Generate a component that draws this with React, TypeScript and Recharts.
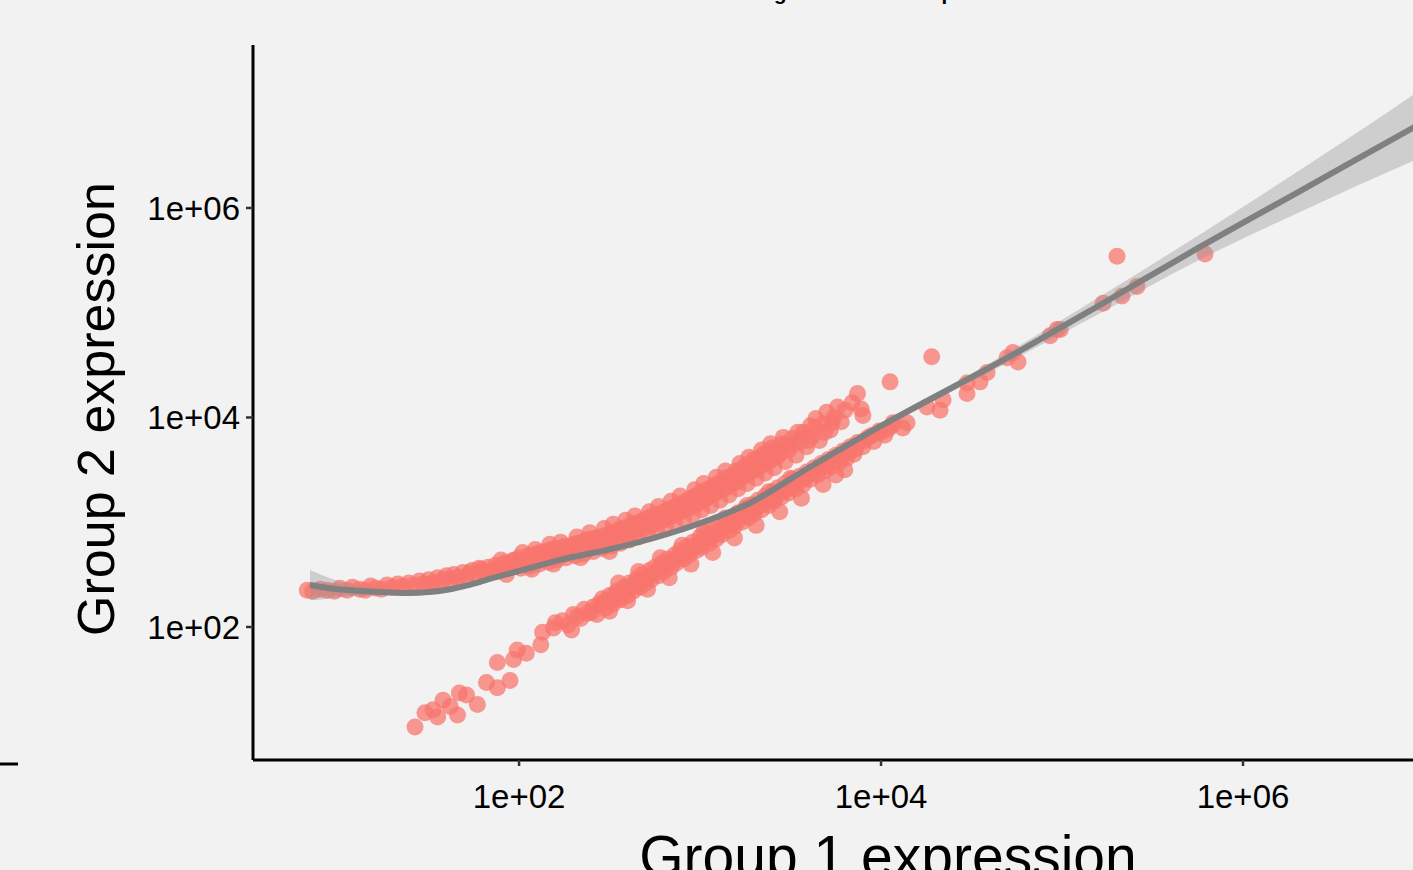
import React from "react";
import { ComposedChart, Scatter, Line, Area, XAxis, YAxis } from "recharts";

// All values are log10 of expression.
// [log10(Group 1 expression), log10(Group 2 expression)]
const upperBranch: [number, number][] = [
  [0.83, 2.35], [0.86, 2.34], [0.9, 2.36], [0.94, 2.35], [0.98, 2.34], [1.01, 2.37], [1.05, 2.35],
  [1.08, 2.38], [1.12, 2.36], [1.15, 2.35], [1.18, 2.39], [1.21, 2.37], [1.24, 2.36], [1.27, 2.4],
  [1.3, 2.38], [1.33, 2.41], [1.36, 2.39], [1.39, 2.42], [1.42, 2.4], [1.45, 2.44], [1.47, 2.41],
  [1.5, 2.45], [1.52, 2.42], [1.55, 2.47], [1.57, 2.44], [1.6, 2.49], [1.62, 2.45], [1.64, 2.5],
  [1.67, 2.47], [1.69, 2.52], [1.71, 2.48], [1.74, 2.54], [1.76, 2.5], [1.78, 2.56], [1.8, 2.52],
  [1.83, 2.57], [1.85, 2.53], [1.87, 2.59], [1.89, 2.55], [1.92, 2.61], [1.94, 2.56], [1.96, 2.63],
  [1.98, 2.58], [2.0, 2.66], [2.01, 2.56], [2.03, 2.62], [2.05, 2.68], [2.06, 2.58], [2.08, 2.64],
  [2.1, 2.7], [2.11, 2.6], [2.13, 2.66], [2.15, 2.72], [2.16, 2.62], [2.18, 2.68], [2.2, 2.75],
  [2.21, 2.64], [2.23, 2.7], [2.25, 2.77], [2.26, 2.66], [2.28, 2.72], [2.3, 2.79], [2.31, 2.68],
  [2.33, 2.75], [2.35, 2.81], [2.36, 2.7], [2.38, 2.77], [2.4, 2.84], [2.41, 2.72], [2.43, 2.79],
  [2.45, 2.86], [2.46, 2.75], [2.48, 2.82], [2.5, 2.89], [2.51, 2.77], [2.53, 2.85], [2.55, 2.93],
  [2.56, 2.8], [2.58, 2.88], [2.6, 2.96], [2.61, 2.83], [2.63, 2.91], [2.65, 2.99], [2.66, 2.86],
  [2.68, 2.94], [2.7, 3.03], [2.71, 2.89], [2.73, 2.97], [2.75, 3.06], [2.76, 2.92], [2.78, 3.01],
  [2.8, 3.1], [2.81, 2.96], [2.83, 3.05], [2.85, 3.14], [2.86, 3.0], [2.88, 3.09], [2.9, 3.18],
  [2.91, 3.03], [2.93, 3.13], [2.95, 3.23], [2.96, 3.07], [2.98, 3.17], [3.0, 3.28], [3.01, 3.12],
  [3.03, 3.22], [3.05, 3.32], [3.06, 3.16], [3.08, 3.27], [3.1, 3.37], [3.11, 3.21], [3.13, 3.32],
  [3.15, 3.43], [3.16, 3.26], [3.18, 3.37], [3.2, 3.49], [3.21, 3.32], [3.23, 3.43], [3.25, 3.54],
  [3.26, 3.37], [3.28, 3.48], [3.3, 3.6], [3.31, 3.42], [3.33, 3.53], [3.35, 3.65], [3.36, 3.47],
  [3.38, 3.58], [3.4, 3.71], [3.41, 3.52], [3.43, 3.63], [3.45, 3.75], [3.47, 3.58], [3.49, 3.69],
  [3.51, 3.8], [3.53, 3.64], [3.55, 3.76], [3.57, 3.86], [3.59, 3.72], [3.61, 3.92], [3.62, 3.82],
  [3.64, 3.99], [3.66, 3.78], [3.68, 3.94], [3.7, 4.05], [3.72, 3.88], [3.74, 4.0], [3.76, 4.1],
  [3.78, 3.96], [3.8, 4.07], [3.84, 4.14], [3.87, 4.23], [3.89, 4.08], [3.9, 4.02],
  [4.05, 4.34], [4.28, 4.58],
];

// Additional, less regular points inside the upper band
const upperFill: [number, number][] = [
  [1.51, 2.4], [1.585, 2.455], [1.655, 2.47], [1.725, 2.515], [1.795, 2.55], [1.815, 2.505], [1.865, 2.545],
  [1.905, 2.585], [1.935, 2.605], [1.975, 2.64], [2.015, 2.625], [2.045, 2.59], [2.075, 2.685], [2.095, 2.62],
  [2.125, 2.715], [2.145, 2.655], [2.175, 2.74], [2.195, 2.66], [2.225, 2.735], [2.245, 2.69], [2.275, 2.76],
  [2.295, 2.735], [2.325, 2.8], [2.345, 2.745], [2.375, 2.83], [2.395, 2.76], [2.425, 2.85], [2.445, 2.8],
  [2.475, 2.87], [2.495, 2.815], [2.525, 2.9], [2.545, 2.86], [2.575, 2.94], [2.595, 2.87], [2.625, 2.975],
  [2.645, 2.92], [2.675, 3.01], [2.695, 2.95], [2.725, 3.05], [2.745, 2.985], [2.775, 3.08], [2.795, 3.02],
  [2.825, 3.125], [2.845, 3.06], [2.875, 3.16], [2.895, 3.1], [2.925, 3.2], [2.945, 3.14], [2.975, 3.25],
  [2.995, 3.19], [3.025, 3.3], [3.045, 3.24], [3.075, 3.345], [3.095, 3.29], [3.125, 3.39], [3.145, 3.33],
  [3.175, 3.44], [3.195, 3.38], [3.225, 3.5], [3.245, 3.44], [3.275, 3.56], [3.295, 3.49], [3.325, 3.61],
  [3.345, 3.55], [3.375, 3.66], [3.395, 3.6], [3.425, 3.7], [3.445, 3.66], [3.475, 3.74], [3.52, 3.75],
  [3.56, 3.81], [3.6, 3.78], [3.635, 3.9], [3.69, 3.86], [3.73, 3.95],
];

// Scattered points along the outer edges of the upper band
const upperEdge: [number, number][] = [
  [1.9, 2.64], [2.02, 2.71], [2.09, 2.74], [2.17, 2.79], [2.23, 2.81], [2.32, 2.86], [2.39, 2.9],
  [2.47, 2.94], [2.52, 2.98], [2.59, 3.02], [2.64, 3.06], [2.72, 3.1], [2.77, 3.15], [2.84, 3.2],
  [2.89, 3.25], [2.97, 3.31], [3.02, 3.37], [3.09, 3.43], [3.14, 3.49], [3.22, 3.56], [3.27, 3.62],
  [3.34, 3.69], [3.39, 3.75], [3.46, 3.81], [3.54, 3.86],
  [1.93, 2.5], [2.07, 2.55], [2.19, 2.6], [2.34, 2.66], [2.5, 2.72],
];

const lowerBranch: [number, number][] = [
  [1.425, 1.045], [1.48, 1.18], [1.525, 1.21], [1.55, 1.14], [1.58, 1.3], [1.62, 1.24], [1.66, 1.16],
  [1.67, 1.37], [1.71, 1.35], [1.77, 1.26], [1.82, 1.47], [1.88, 1.42], [1.88, 1.66], [1.95, 1.49],
  [1.97, 1.69], [1.99, 1.78], [2.04, 1.75], [2.12, 1.83], [2.13, 1.95], [2.19, 1.99], [2.27, 2.02],
  [2.29, 1.97], [2.32, 2.1], [2.38, 2.13], [2.41, 2.19], [2.43, 2.12],
  [2.2, 2.04], [2.24, 2.06], [2.3, 2.12], [2.34, 2.08], [2.36, 2.17], [2.4, 2.14], [2.44, 2.22],
  [2.46, 2.27], [2.48, 2.18], [2.5, 2.3], [2.52, 2.22], [2.54, 2.34], [2.56, 2.26], [2.58, 2.38],
  [2.6, 2.3], [2.61, 2.42], [2.63, 2.34], [2.65, 2.46], [2.67, 2.38], [2.68, 2.5], [2.7, 2.42],
  [2.72, 2.54], [2.73, 2.45], [2.75, 2.57], [2.77, 2.49], [2.79, 2.61], [2.8, 2.53], [2.82, 2.65],
  [2.84, 2.57], [2.86, 2.69], [2.87, 2.61], [2.89, 2.73], [2.91, 2.65], [2.93, 2.77], [2.94, 2.69],
  [2.96, 2.81], [2.98, 2.73], [3.0, 2.86], [3.01, 2.76], [3.03, 2.9], [3.05, 2.8], [3.07, 2.93],
  [3.09, 2.84], [3.1, 2.97], [3.12, 2.88], [3.14, 3.01], [3.16, 2.92], [3.18, 3.05], [3.19, 2.96],
  [3.21, 3.09], [3.23, 3.0], [3.25, 3.13], [3.27, 3.04], [3.29, 3.17], [3.3, 3.08], [3.32, 3.21],
  [3.34, 3.12], [3.36, 3.25], [3.38, 3.16], [3.4, 3.29], [3.41, 3.2], [3.43, 3.33], [3.45, 3.24],
  [3.47, 3.37], [3.49, 3.28], [3.51, 3.41], [3.53, 3.32], [3.55, 3.44], [3.57, 3.36], [3.59, 3.48],
  [3.61, 3.41], [3.63, 3.52], [3.65, 3.45], [3.67, 3.56], [3.69, 3.49], [3.71, 3.6], [3.73, 3.53],
  [3.75, 3.64], [3.75, 3.45], [3.77, 3.57], [3.79, 3.68], [3.81, 3.61], [3.83, 3.72], [3.85, 3.65],
  [3.87, 3.76], [3.9, 3.72], [3.93, 3.81], [3.96, 3.77], [3.99, 3.87], [4.02, 3.83], [4.06, 3.92],
];

// Additional, less regular points inside the lower band
const lowerFill: [number, number][] = [
  [2.455, 2.21], [2.475, 2.25], [2.505, 2.24], [2.525, 2.31], [2.555, 2.29], [2.575, 2.33], [2.605, 2.36],
  [2.625, 2.4], [2.655, 2.39], [2.675, 2.45], [2.705, 2.46], [2.725, 2.49], [2.755, 2.52], [2.775, 2.56],
  [2.805, 2.56], [2.825, 2.6], [2.855, 2.63], [2.875, 2.67], [2.905, 2.67], [2.925, 2.72], [2.955, 2.74],
  [2.975, 2.78], [3.005, 2.79], [3.025, 2.84], [3.055, 2.86], [3.075, 2.88], [3.105, 2.9], [3.125, 2.95],
  [3.155, 2.97], [3.175, 2.99], [3.205, 3.01], [3.225, 3.05], [3.255, 3.07], [3.275, 3.1], [3.305, 3.12],
  [3.325, 3.16], [3.355, 3.18], [3.375, 3.21], [3.405, 3.23], [3.425, 3.26], [3.455, 3.29], [3.475, 3.31],
  [3.505, 3.33], [3.525, 3.37], [3.565, 3.4], [3.585, 3.43], [3.62, 3.47], [3.66, 3.51], [3.7, 3.54],
  [3.74, 3.58], [3.78, 3.62], [3.82, 3.66], [3.86, 3.7], [3.91, 3.78], [3.95, 3.83], [4.0, 3.86], [4.04, 3.89],
];

// Scattered points along the outer edges of the lower band
const lowerEdge: [number, number][] = [
  [2.55, 2.42], [2.66, 2.53], [2.78, 2.66], [2.9, 2.78], [3.02, 2.91], [3.14, 3.04], [3.26, 3.16],
  [3.38, 3.29], [3.5, 3.42],
  [2.5, 2.15], [2.6, 2.25], [2.71, 2.36], [2.83, 2.47], [2.95, 2.6], [3.07, 2.71], [3.19, 2.85],
  [3.31, 2.97], [3.44, 3.1], [3.56, 3.23], [3.68, 3.36], [3.8, 3.5],
];

const upperTail: [number, number][] = [
  [4.066, 3.95], [4.144, 3.95], [4.12, 3.9], [4.254, 4.1], [4.326, 4.07], [4.343, 4.17],
  [4.475, 4.33], [4.475, 4.23], [4.547, 4.34], [4.586, 4.43], [4.696, 4.57], [4.757, 4.53],
  [4.729, 4.62], [4.934, 4.78], [4.972, 4.84], [4.99, 4.84], [5.227, 5.09], [5.331, 5.16],
  [5.414, 5.25], [5.304, 5.54], [5.79, 5.56],
];

// Smoothed fit (log10) and half-width of its confidence band (log10 units)
const smoothX = [0.845, 0.95, 1.05, 1.232, 1.381, 1.5, 1.602, 1.72, 1.856, 2.0, 2.227, 2.558, 2.89, 3.276, 3.608, 4.0, 4.657, 5.21, 5.762, 6.315, 6.939, 7.3];
const smoothY = [2.4, 2.37, 2.353, 2.334, 2.325, 2.333, 2.355, 2.4, 2.468, 2.535, 2.64, 2.764, 2.926, 3.184, 3.527, 3.919, 4.53, 5.074, 5.628, 6.162, 6.764, 7.113];
const bandHalf = [0.145, 0.1, 0.06, 0.03, 0.025, 0.025, 0.025, 0.025, 0.025, 0.025, 0.025, 0.025, 0.025, 0.025, 0.025, 0.028, 0.045, 0.08, 0.12, 0.2, 0.315, 0.4];

const xTicks = [1e2, 1e4, 1e6];
const yTicks = [1e2, 1e4, 1e6];
const xDomain = [10 ** 0.53, 10 ** 7.547];
const yDomain = [10 ** 0.73, 10 ** 7.556];

const pointData = [...upperBranch, ...upperFill, ...upperEdge, ...lowerBranch, ...lowerFill, ...lowerEdge, ...upperTail].map(
  ([lx, ly]) => ({ x: 10 ** lx, y: 10 ** ly })
);
const smoothData = smoothX.map((lx, i) => ({
  x: 10 ** lx,
  fit: 10 ** smoothY[i],
  band: [10 ** (smoothY[i] - bandHalf[i]), 10 ** (smoothY[i] + bandHalf[i])],
}));

const FONT = "'Liberation Sans', Arial, Helvetica, sans-serif";
const fmt = (v: number) => "1e+" + String(Math.round(Math.log10(v))).padStart(2, "0");

const Dot = (props: any) => (
  <circle cx={props.cx} cy={props.cy} r={8.5} fill="#F8766D" fillOpacity={0.75} />
);

export default function App() {
  return (
    <div style={{ position: "fixed", left: 0, top: 0, width: 1413, height: 870, overflow: "hidden", background: "#F2F2F2" }}>
      <div style={{ position: "absolute", left: 0, top: 0 }}>
        <ComposedChart width={1620} height={870} margin={{ top: 45, right: 97, bottom: 50, left: 0 }}>
          <XAxis
            type="number"
            dataKey="x"
            scale="log"
            domain={xDomain}
            allowDataOverflow
            ticks={xTicks}
            tickFormatter={fmt}
            height={60}
            tickSize={6}
            tickMargin={19}
            axisLine={{ stroke: "#000", strokeWidth: 3 }}
            tickLine={{ stroke: "#333", strokeWidth: 2.5 }}
            tick={{ fill: "#000", fontSize: 33, fontFamily: FONT }}
          />
          <YAxis
            type="number"
            dataKey="y"
            scale="log"
            domain={yDomain}
            allowDataOverflow
            ticks={yTicks}
            tickFormatter={fmt}
            width={253}
            tickSize={7}
            tickMargin={6}
            axisLine={{ stroke: "#000", strokeWidth: 3 }}
            tickLine={{ stroke: "#333", strokeWidth: 2.5 }}
            tick={{ fill: "#000", fontSize: 33, fontFamily: FONT }}
          />
          <Scatter data={pointData} dataKey="y" shape={Dot} isAnimationActive={false} zIndex={100} />
          <Area
            data={smoothData}
            dataKey="band"
            type="monotone"
            stroke="none"
            fill="#999999"
            fillOpacity={0.4}
            isAnimationActive={false}
            zIndex={700}
          />
          <Line
            data={smoothData}
            dataKey="fit"
            type="monotone"
            stroke="#808080"
            strokeWidth={6}
            dot={false}
            activeDot={false}
            isAnimationActive={false}
            zIndex={800}
          />
        </ComposedChart>
      </div>
      <svg width={1413} height={870} style={{ position: "absolute", left: 0, top: 0, pointerEvents: "none" }}>
        <text x={888} y={0} textAnchor="middle" fontSize={20.5} fontWeight="bold" fontFamily={FONT} fill="#000">
          Log-transformed expression
        </text>
        <text transform="rotate(-90)" x={-409} y={114} textAnchor="middle" fontSize={52} fontFamily={FONT} fill="#000">
          Group 2 expression
        </text>
        <text x={888} y={876} textAnchor="middle" fontSize={57} fontFamily={FONT} fill="#000">
          Group 1 expression
        </text>
        <line x1={0} x2={18} y1={764} y2={764} stroke="#000" strokeWidth={3} />
      </svg>
    </div>
  );
}
